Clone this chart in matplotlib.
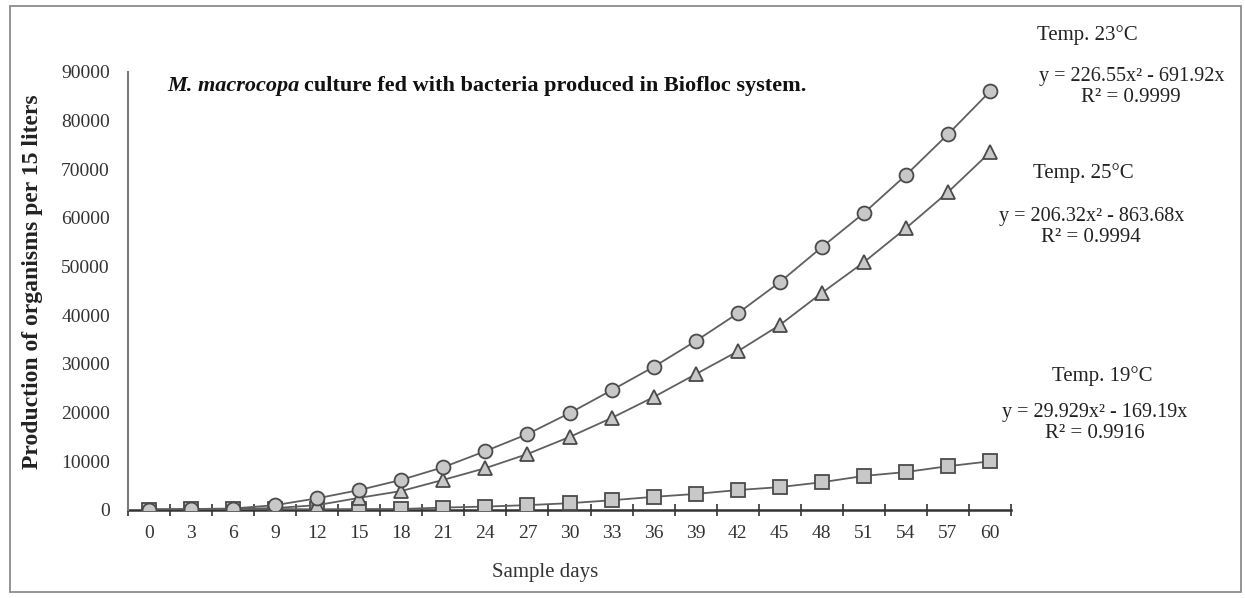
import numpy
import matplotlib
matplotlib.use('Agg')
import matplotlib.pyplot as plt
from matplotlib.patches import Rectangle

# sample days (category axis)
days = [0, 3, 6, 9, 12, 15, 18, 21, 24, 27, 30, 33, 36, 39, 42, 45, 48, 51, 54, 57, 60]

# production of organisms per 15 liters
temp23 = [100, 200, 300, 1000, 2400, 4100, 6200, 8800, 12100, 15600, 19900, 24600, 29400,
          34700, 40400, 46800, 54000, 61000, 68800, 77200, 86000]
temp25 = [100, 100, 200, 400, 1000, 2500, 3900, 6200, 8600, 11500, 15000, 18900, 23200,
          27900, 32600, 38000, 44600, 50900, 57900, 65300, 73500]
temp19 = [100, 150, 150, 200, 150, 200, 200, 500, 700, 1000, 1400, 2000, 2700,
          3300, 4100, 4700, 5700, 7000, 7800, 9000, 10000]

eq_labels = [
    ("Temp. 23°C", "y = 226.55x² - 691.92x", "R² = 0.9999"),
    ("Temp. 25°C", "y = 206.32x² - 863.68x", "R² = 0.9994"),
    ("Temp. 19°C", "y = 29.929x² - 169.19x", "R² = 0.9916"),
]

plt.rcParams['font.family'] = ['Liberation Serif', 'DejaVu Serif']

W, H = 1245, 598
fig = plt.figure(figsize=(12.45, 5.98), dpi=100)
ax = fig.add_axes([128 / W, 1 - 510 / H, (1011 - 128) / W, (510 - 72) / H])

# outer frame round the whole chart
fig.patches.append(Rectangle((10 / W, 6 / H), 1231 / W, 586 / H,
                             transform=fig.transFigure, fill=False,
                             edgecolor='#8c8c8c', linewidth=1.3))

x = numpy.arange(len(days))
line_col = '#5f5f5f'
face_col = '#c8c8c8'
edge_col = '#4a4a4a'

ax.plot(x, temp19, color=line_col, lw=1.3, marker='s', ms=10,
        mfc=face_col, mec=edge_col, mew=1.3, zorder=3)
ax.plot(x, temp25, color=line_col, lw=1.3, marker='^', ms=10,
        mfc=face_col, mec=edge_col, mew=1.3, zorder=4)
ax.plot(x, temp23, color=line_col, lw=1.3, marker='o', ms=10,
        mfc=face_col, mec=edge_col, mew=1.3, zorder=5)

ax.set_xlim(-0.5, len(days) - 0.5)
ax.set_ylim(0, 90000)
ax.set_yticks(numpy.arange(0, 90001, 10000))
ax.set_yticklabels([str(v) for v in range(0, 90001, 10000)], fontsize=14, color='#333333')
ax.tick_params(axis='y', length=0, pad=13)

ax.set_xticks(x)
ax.set_xticklabels([str(d) for d in days], fontsize=14, color='#333333')
ax.set_xticks(numpy.arange(-0.5, len(days)), minor=True)
ax.tick_params(axis='x', which='major', length=0, pad=11)
ax.tick_params(axis='x', which='minor', direction='inout', length=9, width=1.2, color='#333333')

for s in ['top', 'right']:
    ax.spines[s].set_visible(False)
ax.spines['left'].set_color('#7a7a7a')
ax.spines['left'].set_linewidth(1.5)
ax.spines['bottom'].set_color('#333333')
ax.spines['bottom'].set_linewidth(1.8)
ax.spines['bottom'].set_zorder(2)

fig.text(545 / W, 1 - 573 / H, "Sample days", ha='center', va='center',
         fontsize=15, color='#333333')
fig.text(33 / W, 1 - 282 / H, "Production of organisms per 15 liters",
         rotation=90, ha='center', va='center', fontsize=17, fontweight='bold', color='#222222')

# title: italic species name followed by bold text
t1 = fig.text(167 / W, 1 - 86 / H, "M. macrocopa", fontsize=16, fontweight='bold',
              fontstyle='italic', va='center', ha='left', color='#111111')
fig.canvas.draw()
bb = t1.get_window_extent()
fig.text(bb.x1 / W + 5 / W, 1 - 86 / H,
         "culture fed with bacteria produced in Biofloc system.",
         fontsize=16, fontweight='bold', va='center', ha='left', color='#111111')

# trend-line equations to the right of the plot
pos = [((1087, 35), (1132, 77), (1131, 97)),
       ((1083, 173), (1092, 217), (1091, 238)),
       ((1102, 376), (1095, 413), (1095, 433))]
for (name, eq, r2), (p1, p2, p3) in zip(eq_labels, pos):
    fig.text(p1[0] / W, 1 - p1[1] / H, name, ha='center', va='center',
             fontsize=15, color='#222222')
    fig.text(p2[0] / W, 1 - p2[1] / H, eq, ha='center', va='center',
             fontsize=14.5, color='#222222')
    fig.text(p3[0] / W, 1 - p3[1] / H, r2, ha='center', va='center',
             fontsize=15, color='#222222')

fig.savefig('out.png', dpi=100)
